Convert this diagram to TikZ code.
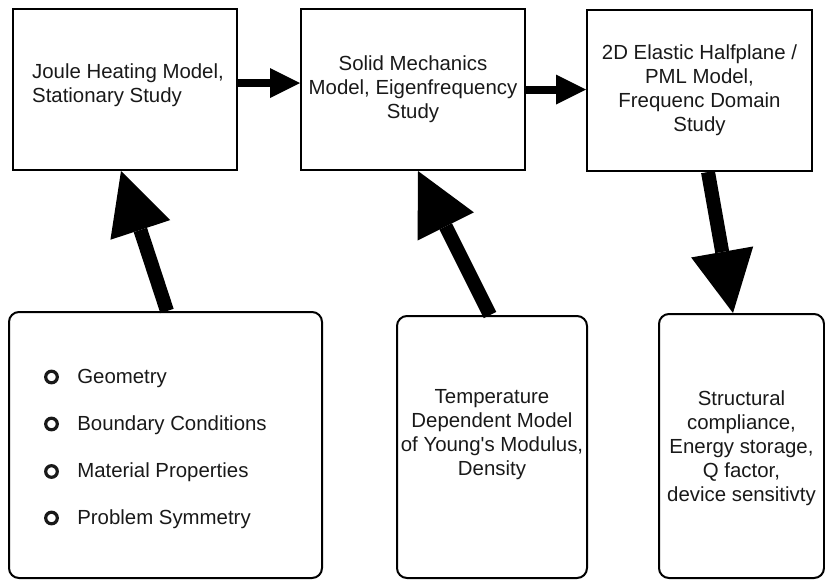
\documentclass[tikz,border=0pt]{standalone}
\usepackage{fontspec}
\setmainfont{Liberation Sans}[Ligatures=TeXOff]
\usetikzlibrary{arrows.meta}
\begin{document}
\begin{tikzpicture}[x=1pt,y=-1pt,
  sqbox/.style={draw, line width=2pt, anchor=north west, inner sep=0pt, text=black!90,
    font=\fontsize{20.4}{24}\selectfont},
  rbox/.style={sqbox, rounded corners=10pt},
  ring/.style={draw=black!90, line width=3.2pt},
  bigarrow/.style={line width=14pt, -{Triangle[length=62pt,width=63pt,line width=0pt]}},
  smallarrow/.style={line width=8pt, -{Triangle[length=30pt,width=30pt,line width=0pt]}}
]
\useasboundingbox (0,0) rectangle (825,579);

\node[sqbox, minimum width=224pt, minimum height=161pt, text depth=14.2pt] (A) at (12,8)
  {\begin{tabular}[b]{@{\hspace{6pt}}l@{}}Joule Heating Model,\\Stationary Study\end{tabular}};
\node[sqbox, minimum width=224pt, minimum height=161pt] (B) at (300,8)
  {\begin{tabular}{@{}c@{}}Solid Mechanics\\Model, Eigenfrequency\\Study\end{tabular}};
\node[sqbox, minimum width=225pt, minimum height=161pt] (C) at (586,9)
  {\begin{tabular}{@{}c@{}}2D Elastic Halfplane /\\PML Model,\\Frequenc Domain\\Study\end{tabular}};

\node[rbox, minimum width=313pt, minimum height=266pt] (D) at (8,311)
  {\renewcommand\arraystretch{1.958}\begin{tabular}{@{\hspace{13pt}}l@{}}
   Geometry\\
   Boundary Conditions\\
   Material Properties\\
   Problem Symmetry
   \end{tabular}};
\node[rbox, minimum width=190pt, minimum height=262pt, text depth=32.2pt] (E) at (396,315)
  {\begin{tabular}[b]{@{}c@{}}Temperature\\Dependent Model\\of Young's Modulus,\\Density\end{tabular}};
\node[rbox, minimum width=165pt, minimum height=264pt, text height=118.8pt] (F) at (658,313)
  {\begin{tabular}[b]{@{}c@{}}Structural\\compliance,\\Energy storage,\\Q factor,\\device sensitivty\end{tabular}};

\foreach \yy in {66,113,160.5,207}
  \draw[ring] ([shift={(43.5,\yy)}]D.north west) circle[radius=5.8pt];

\draw[smallarrow] ([yshift=6.5pt]A.east) -- ([yshift=6.5pt]B.west);
\draw[smallarrow] (B.east) -- (B.east -| C.west);
\draw[bigarrow] ([xshift=159pt]D.north west) -- ([xshift=109pt]A.south west);
\draw[bigarrow] ([xshift=94pt]E.north west) -- ([xshift=118pt]B.south west);
\draw[bigarrow] ([xshift=122pt]C.south west) -- ([xshift=75pt]F.north west);
\end{tikzpicture}
\end{document}
